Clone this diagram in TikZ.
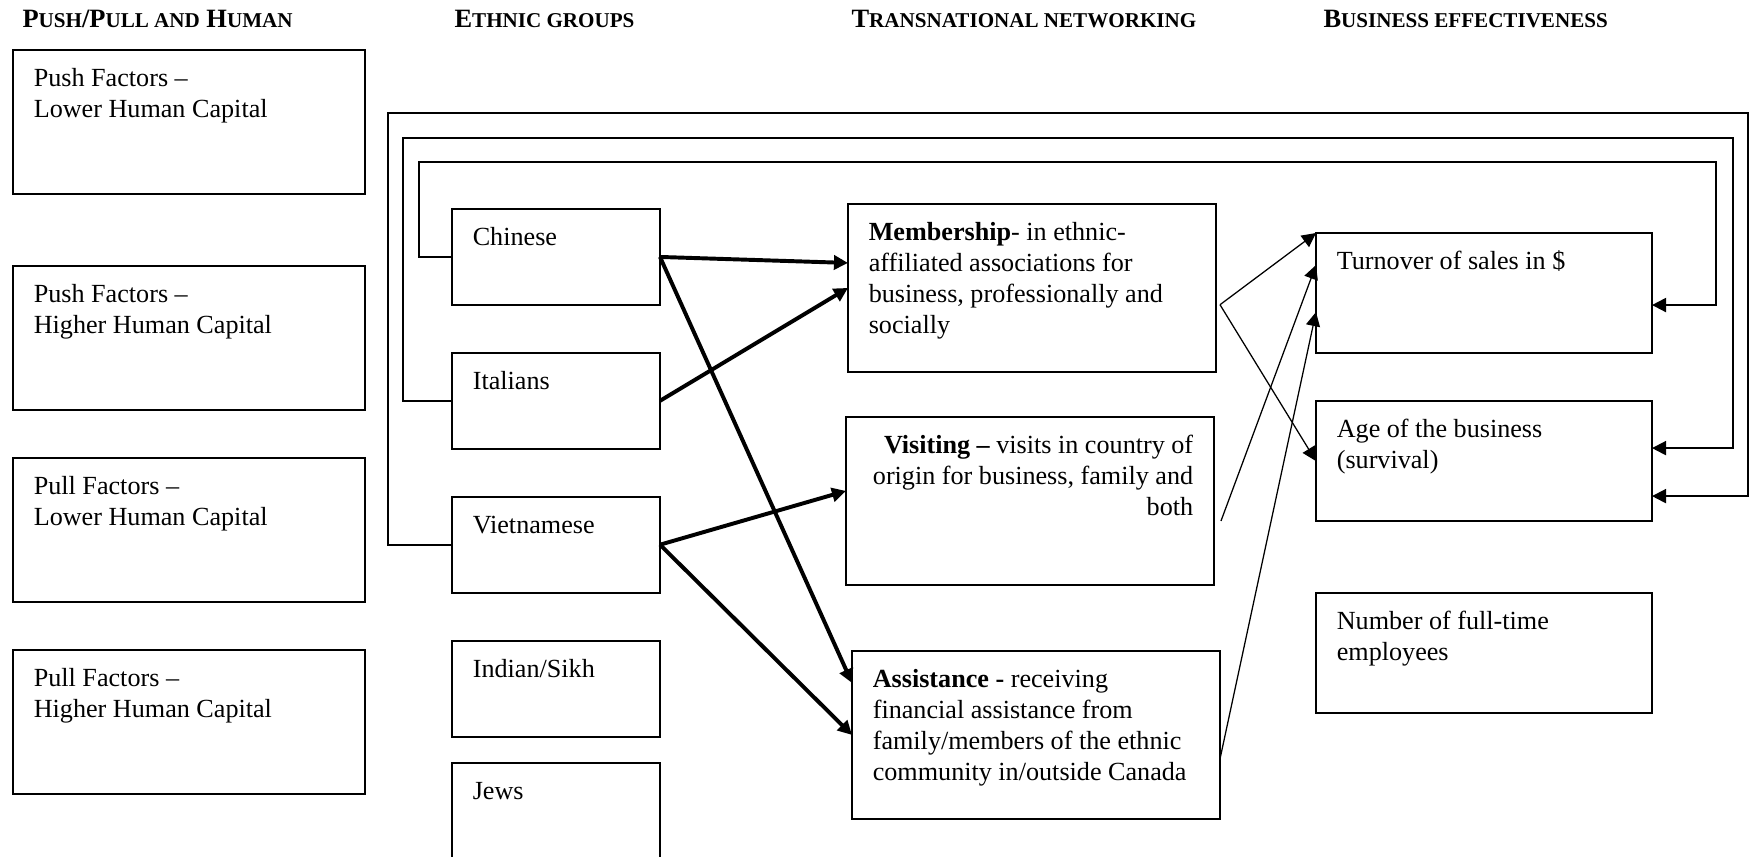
\documentclass[tikz,border=0pt]{standalone}
\usepackage{fontspec}
\setmainfont{Liberation Serif}
\usepackage{tikz}
\usetikzlibrary{positioning,arrows.meta}

\newcommand{\smc}[1]{{\fontsize{7.5}{9}\selectfont #1}}

\begin{document}
\begin{tikzpicture}[every node/.style={font=\fontsize{9.3}{11}\selectfont},
    box/.style={draw, line width=0.7pt, anchor=north west, outer sep=0pt, inner xsep=0.26cm, inner ysep=5pt, text height=8pt, align=flush left},
    factor/.style={box, text width=3.88cm, text depth=33.2pt},
    group/.style={box, text width=2.08cm, text depth=16.1pt},
    network/.style={box, text width=4.08cm, text depth=41.7pt},
    effect/.style={box, text width=3.68cm, text depth=24.7pt},
    head/.style={anchor=base west, inner sep=0pt, font=\bfseries\fontsize{9.4}{11}\selectfont},
    strong/.style={-{Triangle[length=5pt,width=5pt]}, line width=1.4pt},
    weak/.style={-{Triangle[length=5pt,width=5pt]}, line width=0.45pt},
    feedback/.style={-{Triangle[length=5pt,width=5pt]}, line width=0.7pt}] %
    \useasboundingbox (0,0) rectangle (21.9,-10.7);
    % column headings
    \node[head] (hpush) at (0.275,-0.3375) {P\smc{USH}/P\smc{ULL AND} H\smc{UMAN}};
    \node[head] (hethnic) at (5.675,-0.3375) {E\smc{THNIC GROUPS}};
    \node[head] (htrans) at (10.6375,-0.3375) {T\smc{RANSNATIONAL NETWORKING}};
    \node[head] (hbus) at (16.5375,-0.3375) {B\smc{USINESS EFFECTIVENESS}};
    % push/pull factors
    \node[factor] (pushlow) at (0.1625,-0.625) {Push Factors --\\Lower Human Capital}; %
    \node[factor, below=0.9cm of pushlow] (pushhigh) {Push Factors --\\Higher Human Capital}; %
    \node[factor, below=0.6cm of pushhigh] (pulllow) {Pull Factors --\\Lower Human Capital}; %
    \node[factor, below=0.6cm of pulllow] (pullhigh) {Pull Factors --\\Higher Human Capital}; %
    % ethnic groups
    \node[group] (chinese) at (5.65,-2.6125) {Chinese}; %
    \node[group, below=0.6cm of chinese] (italians) {Italians}; %
    \node[group, below=0.6cm of italians] (vietnamese) {Vietnamese}; %
    \node[group, below=0.6cm of vietnamese] (indian) {Indian/Sikh}; %
    \node[group, below=0.33cm of indian] (jews) {Jews}; %
    % networking
    \node[network] (memb) at (10.6,-2.55) {\textbf{Membership}- in ethnic-\\affiliated associations for\\business, professionally and\\socially};
    \node[network, align=flush right] (visit) at (10.575,-5.2125) {\textbf{Visiting --} visits in country of\\origin for business, family and\\both};
    \node[network] (assist) at (10.65,-8.1375) {\textbf{Assistance -} receiving\\financial assistance from\\family/members of the ethnic\\community in/outside Canada};
    % effectiveness
    \node[effect] (turnover) at (16.45,-2.9125) {Turnover of sales in \$}; %
    \node[effect, below=0.6cm of turnover] (age) {Age of the business\\(survival)}; %
    \node[effect, below=0.9cm of age] (staff) {Number of full-time\\employees}; %
    % loop corners
    \coordinate (l1) at (5.2375,-2.025);
    \coordinate (r1) at (21.45,-2.025);
    \coordinate (l2) at (5.0375,-1.725);
    \coordinate (r2) at (21.6625,-1.725);
    \coordinate (l3) at (4.85,-1.4125);
    \coordinate (r3) at (21.85,-1.4125);
    \draw[feedback] (chinese.west) -| (l1) -- (r1) |- ([yshift=-0.15cm]turnover.east);
    \draw[feedback] (italians.west) -| (l2) -- (r2) |- ([yshift=0.1625cm]age.east);
    \draw[feedback] (vietnamese.west) -| (l3) -- (r3) |- ([yshift=-0.4375cm]age.east);
    % groups to networking
    \draw[strong] (chinese.east) -- ([yshift=0.3125cm]memb.west);
    \draw[strong] (chinese.east) -- ([yshift=0.65cm]assist.west);
    \draw[strong] (italians.east) -- (memb.west);
    \draw[strong] (vietnamese.east) -- ([yshift=0.125cm]visit.west);
    \draw[strong] (vietnamese.east) -- (assist.west);
    % networking to effectiveness
    \coordinate (fork) at ([xshift=0.05cm,yshift=-0.21cm]memb.east);
    \coordinate (vout) at ([xshift=0.0875cm,yshift=-0.25cm]visit.east);
    \coordinate (aout) at ([yshift=-0.3cm]assist.east);
    \draw[weak] (fork) -- (turnover.north west);
    \draw[weak] (fork) -- (age.west);
    \draw[weak] (vout) -- ([yshift=0.35cm]turnover.west);
    \draw[weak] (aout) -- ([yshift=-0.2375cm]turnover.west);
\end{tikzpicture}
\end{document}
